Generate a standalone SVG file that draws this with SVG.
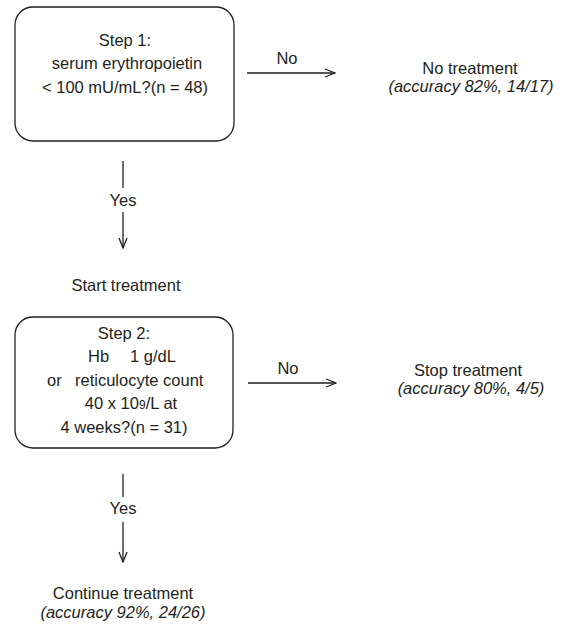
<svg xmlns="http://www.w3.org/2000/svg" width="562" height="626" viewBox="0 0 562 626">
<defs>
<marker id="arr" viewBox="0 0 12 12" refX="11" refY="6" markerWidth="12" markerHeight="12" markerUnits="userSpaceOnUse" orient="auto">
<path d="M1,2 L11,6 L1,10" fill="none" stroke="#231f20" stroke-width="1.3"/>
</marker>
<style>
text{font-family:"Liberation Sans",Arial,sans-serif;font-size:16.5px;fill:#231f20;text-anchor:middle}
.st{text-anchor:start}
.it{font-style:italic}
.box{fill:#fff;stroke:#231f20;stroke-width:1.3}
.ln{fill:none;stroke:#231f20;stroke-width:1.3}
</style>
</defs>
<rect width="562" height="626" fill="#fff"/>
<g id="step1">
<rect class="box" x="15" y="7" width="219" height="134" rx="18"/>
<text x="125" y="46">Step 1:</text>
<text x="127" y="69">serum erythropoietin</text>
<text x="125" y="93">&lt; 100 mU/mL?(n = 48)</text>
</g>
<g id="notreat">
<text x="470" y="74">No treatment</text>
<text x="471" y="92" class="it">(accuracy 82%, 14/17)</text>
</g>
<g id="start">
<text x="126" y="291">Start treatment</text>
</g>
<g id="step2">
<rect class="box" x="15" y="317" width="218" height="131" rx="18"/>
<text x="124" y="339">Step 2:</text>
<text x="88" y="362" class="st">Hb</text>
<text x="130" y="362" class="st">1 g/dL</text>
<text x="47" y="386" class="st">or</text>
<text x="75" y="386" class="st">reticulocyte count</text>
<text x="131" y="409">40 x 10<tspan font-size="12">9</tspan>/L at</text>
<text x="124" y="433">4 weeks?(n = 31)</text>
</g>
<g id="stoptreat">
<text x="468" y="376">Stop treatment</text>
<text x="471" y="394" class="it">(accuracy 80%, 4/5)</text>
</g>
<g id="continue">
<text x="123" y="599">Continue treatment</text>
<text x="123" y="618" class="it">(accuracy 92%, 24/26)</text>
</g>
<g id="connectors">
<line class="ln" x1="247" y1="73" x2="335" y2="73" marker-end="url(#arr)"/>
<text x="287" y="64">No</text>
<line class="ln" x1="123" y1="161" x2="123" y2="188"/>
<text x="123" y="206">Yes</text>
<line class="ln" x1="123" y1="212" x2="123" y2="248" marker-end="url(#arr)"/>
<line class="ln" x1="248" y1="383" x2="336" y2="383" marker-end="url(#arr)"/>
<text x="288" y="374">No</text>
<line class="ln" x1="123" y1="474" x2="123" y2="497"/>
<text x="123" y="514">Yes</text>
<line class="ln" x1="123" y1="522" x2="123" y2="562" marker-end="url(#arr)"/>
</g>
</svg>
